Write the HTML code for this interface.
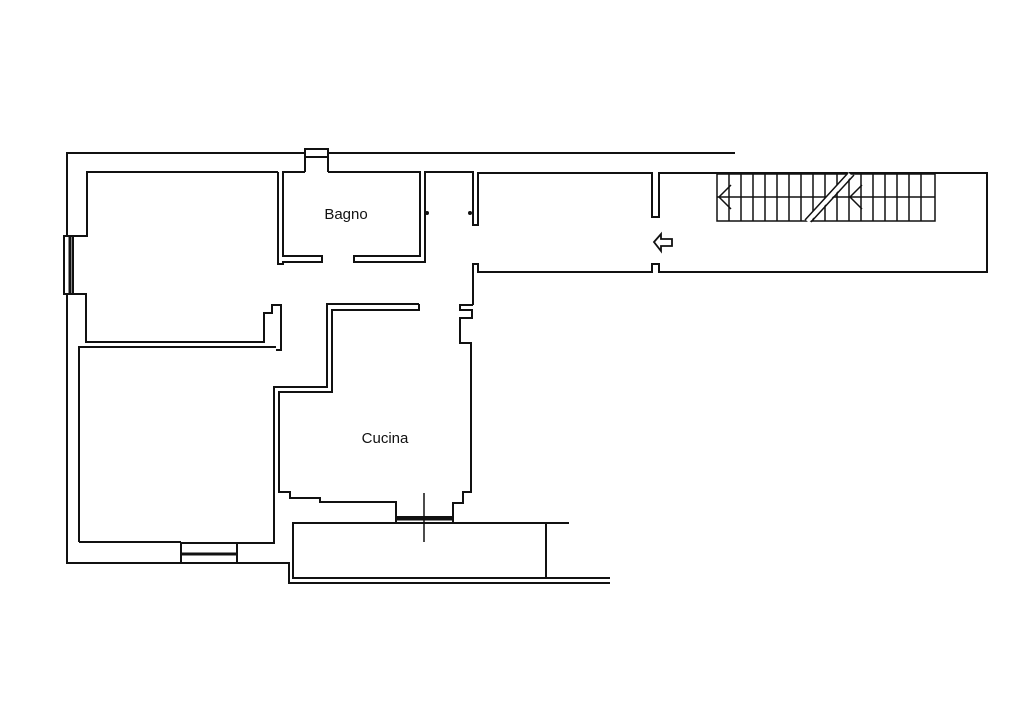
<!DOCTYPE html>
<html><head><meta charset="utf-8"><style>
html,body{margin:0;padding:0;background:#fff;}
svg{display:block;}
text{font-family:"Liberation Sans",sans-serif;font-size:15px;fill:#111;}
</style></head><body>
<svg width="1024" height="724" viewBox="0 0 1024 724" xmlns="http://www.w3.org/2000/svg">
<g fill="none" stroke="#111" stroke-width="2" stroke-linejoin="miter">
<polyline points="735,153 328,153"/>
<polyline points="305,153 67,153 67,236"/>
<rect x="305" y="149" width="23" height="8"/>
<line x1="305" y1="153" x2="305" y2="172"/><line x1="328" y1="153" x2="328" y2="172"/>
<rect x="64" y="236" width="9" height="58"/>
<line x1="70" y1="236" x2="70" y2="294" stroke-width="3"/>
<polyline points="67,294 67,563 181,563"/>
<polyline points="278,172 87,172 87,236 73,236"/>
<polyline points="73,294 86,294 86,342 264,342 264,313 272,313 272,305 281,305 281,350 276,350"/>
<polyline points="79,542 79,347 276,347"/>
<polyline points="278,172 278,264 283,264 283,262 322,262 322,256 283,256 283,172 305,172"/>
<polyline points="328,172 420,172 420,256 354,256 354,262 425,262 425,172 473,172 473,225 478,225 478,173 652,173 652,217 659,217 659,173 987,173 987,272 659,272 659,264 652,264 652,272 478,272 478,264 473,264 473,305"/>
<polyline points="473,305 460,305 460,310 472,310 472,318 460,318 460,343 471,343 471,492 463,492 463,503 453,503 453,517"/>
<polyline points="419,304 327,304 327,387 274,387 274,543 237,543"/>
<polyline points="419,304 419,310 332,310 332,392 279,392 279,492 290,492 290,498 320,498 320,502 396,502 396,517"/>
<rect x="396" y="517" width="57" height="6"/>
<line x1="396" y1="519" x2="453" y2="519" stroke-width="3"/>
<polyline points="79,542 181,542"/>
<rect x="181" y="543" width="56" height="20"/>
<line x1="181" y1="554" x2="237" y2="554" stroke-width="3"/>
<polyline points="237,563 289,563 289,583 610,583"/>
<polyline points="396,523 293,523 293,578 610,578"/>
<line x1="453" y1="523" x2="569" y2="523"/>
<line x1="546" y1="523" x2="546" y2="578"/>
<line x1="424" y1="493" x2="424" y2="542" stroke-width="1.5"/>
</g>
<circle cx="427" cy="213" r="2" fill="#111"/>
<circle cx="470" cy="213" r="2" fill="#111"/>
<g stroke="#111" stroke-width="1.5" fill="none">
<rect x="717" y="174" width="218" height="47"/>
<line x1="717" y1="197" x2="935" y2="197"/>
<line x1="729" y1="174" x2="729" y2="221"/><line x1="741" y1="174" x2="741" y2="221"/>
<line x1="753" y1="174" x2="753" y2="221"/><line x1="765" y1="174" x2="765" y2="221"/>
<line x1="777" y1="174" x2="777" y2="221"/><line x1="789" y1="174" x2="789" y2="221"/>
<line x1="801" y1="174" x2="801" y2="221"/><line x1="813" y1="174" x2="813" y2="221"/>
<line x1="825" y1="174" x2="825" y2="221"/><line x1="837" y1="174" x2="837" y2="221"/>
<line x1="849" y1="174" x2="849" y2="221"/><line x1="861" y1="174" x2="861" y2="221"/>
<line x1="873" y1="174" x2="873" y2="221"/><line x1="885" y1="174" x2="885" y2="221"/>
<line x1="897" y1="174" x2="897" y2="221"/><line x1="909" y1="174" x2="909" y2="221"/>
<line x1="921" y1="174" x2="921" y2="221"/>
<polyline points="731,185 719,197 731,209"/>
<polyline points="862,185 850,197 862,209"/>
</g>
<line x1="807" y1="221" x2="850" y2="174" stroke="#fff" stroke-width="5"/>
<line x1="805" y1="220" x2="848" y2="173" stroke="#111" stroke-width="1.5"/>
<line x1="811" y1="222" x2="854" y2="175" stroke="#111" stroke-width="1.5"/>
<polygon points="654,242 661,234 661,239 672,239 672,246 661,246 661,251" fill="#fff" stroke="#111" stroke-width="1.8"/>
<text x="346" y="219" text-anchor="middle">Bagno</text>
<text x="385" y="443" text-anchor="middle">Cucina</text>
</svg>
</body></html>
